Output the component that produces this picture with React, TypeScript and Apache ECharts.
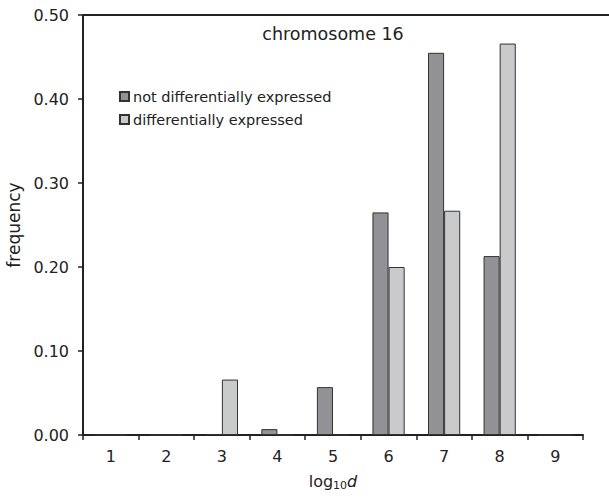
import React, { useEffect, useRef } from "react";
import * as echarts from "echarts";

const categories = ["1", "2", "3", "4", "5", "6", "7", "8", "9"];
const notDiffExpressed = [0, 0, 0.001, 0.007, 0.057, 0.265, 0.455, 0.213, 0];
const diffExpressed = [0, 0, 0.066, 0, 0, 0.2, 0.267, 0.466, 0];
const seriesNames = ["not differentially expressed", "differentially expressed"];

const FONT = "DejaVu Sans, Verdana, sans-serif";

export default function App() {
  const ref = useRef<HTMLDivElement>(null);
  useEffect(() => {
    if (!ref.current) return;
    const chart = echarts.init(ref.current, null, { renderer: "svg" });
    chart.setOption({
      animation: false,
      backgroundColor: "#ffffff",
      textStyle: { fontFamily: FONT },
      title: {
        text: "chromosome 16",
        left: 328,
        top: 20,
        textAlign: "center",
        textStyle: { fontFamily: FONT, fontSize: 17.5, fontWeight: "normal", color: "#222" },
      },
      legend: {
        orient: "vertical",
        left: 114,
        top: 84,
        itemWidth: 9,
        itemHeight: 9,
        itemGap: 8,
        icon: "rect",
        textStyle: { fontFamily: FONT, fontSize: 14.5, color: "#222", padding: [0, 0, 0, -1] },
        data: seriesNames,
      },
      grid: { left: 83, top: 15, right: 26, bottom: 63, containLabel: false, outerBoundsMode: "none" },
      xAxis: {
        type: "category",
        data: categories,
        boundaryGap: true,
        name: "{a|log}{s|10}{i|d}",
        nameLocation: "middle",
        nameGap: 36,
        nameTextStyle: {
          rich: {
            a: { fontFamily: FONT, fontSize: 16, color: "#222" },
            s: { fontFamily: FONT, fontSize: 11, color: "#222", verticalAlign: "bottom", padding: [9, 0, 0, 0] },
            i: { fontFamily: FONT, fontSize: 16, color: "#222", fontStyle: "italic" },
          },
        },
        axisLine: { lineStyle: { color: "#222", width: 2 } },
        axisTick: { show: true, length: 5, lineStyle: { color: "#222", width: 1.5 } },
        axisLabel: { fontFamily: FONT, fontSize: 16, color: "#222", margin: 13 },
      },
      yAxis: {
        type: "value",
        min: 0,
        max: 0.5,
        interval: 0.1,
        name: "frequency",
        nameLocation: "middle",
        nameGap: 58,
        nameRotate: 90,
        nameTextStyle: { fontFamily: FONT, fontSize: 17, color: "#222" },
        axisLine: { show: true, lineStyle: { color: "#222", width: 2 } },
        axisTick: { show: true, length: 5, lineStyle: { color: "#222", width: 1.5 } },
        axisLabel: {
          fontFamily: FONT,
          fontSize: 16,
          color: "#222",
          margin: 14,
          formatter: (v: number) => v.toFixed(2),
        },
        splitLine: { show: false },
      },
      graphic: [
        {
          type: "line",
          shape: { x1: 83, y1: 15, x2: 609, y2: 15 },
          style: { stroke: "#222", lineWidth: 2 },
          z: 10,
        },
      ],
      series: [
        {
          name: seriesNames[0],
          type: "bar",
          data: notDiffExpressed,
          barGap: "0%",
          barCategoryGap: "42%",
          itemStyle: { color: "#929296", borderColor: "#333", borderWidth: 1 },
        },
        {
          name: seriesNames[1],
          type: "bar",
          data: diffExpressed,
          itemStyle: { color: "#c9cacc", borderColor: "#333", borderWidth: 1 },
        },
      ],
    });
    return () => chart.dispose();
  }, []);
  return <div ref={ref} style={{ width: 609, height: 498, position: "absolute", left: 0, top: 0 }} />;
}
